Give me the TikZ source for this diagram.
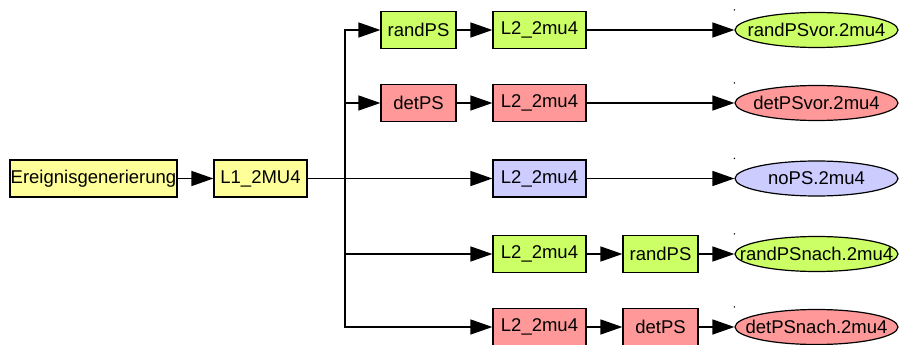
\documentclass[tikz,border=0pt]{standalone}
\usepackage{fontspec}
\setmainfont{Liberation Sans}
\usetikzlibrary{shapes,arrows.meta,positioning}

\definecolor{genyellow}{RGB}{255,255,153}
\definecolor{randgreen}{RGB}{204,255,102}
\definecolor{detred}{RGB}{255,153,153}
\definecolor{nopsblue}{RGB}{204,204,255}

\begin{document}
\begin{tikzpicture}[x=1pt, y=-1pt,
    font=\fontsize{18.5}{21}\selectfont,
    box/.style={rectangle, draw, line width=1.2pt, minimum height=37pt, inner sep=0pt},
    wide/.style={box, minimum width=93pt},
    ps/.style={box, minimum width=75pt},
    oval/.style={ellipse, draw, line width=1.2pt, minimum width=163pt,
                 minimum height=35pt, inner sep=0pt},
    arrow/.style={-{Triangle[length=22pt, width=15pt]}, line width=1.5pt}
]
\useasboundingbox (0,0) rectangle (900,345);

% Generation
\node[box, fill=genyellow, minimum width=167pt] (gen) at (93.5,178.5) {Ereignisgenerierung};
\node[wide, fill=genyellow] (l1) at (260.5,178.5) {L1\_2MU4};
\coordinate (fork) at (345,178.5);

% PS before L2
\node[ps, fill=randgreen] (rpsvor) at (418.5,30) {randPS};
\node[wide, fill=randgreen] (l2a) at (539.5,30) {L2\_2mu4};
\node[oval, fill=randgreen, label=center:randPSvor.2mu4] (ov1) at (816.5,30) {};

\node[ps, fill=detred] (dpsvor) at (418.5,103) {detPS};
\node[wide, fill=detred] (l2b) at (539.5,103) {L2\_2mu4};
\node[oval, fill=detred, label=center:detPSvor.2mu4] (ov2) at (816.5,103) {};

% no PS
\node[wide, fill=nopsblue] (l2c) at (539.5,178.5) {L2\_2mu4};
\node[oval, fill=nopsblue, label=center:noPS.2mu4] (ov3) at (816.5,178.5) {};

% PS after L2
\node[wide, fill=randgreen] (l2d) at (539.5,254) {L2\_2mu4};
\node[ps, fill=randgreen] (rpsnach) at (660.5,254) {randPS};
\node[oval, fill=randgreen, label=center:randPSnach.2mu4] (ov4) at (816.5,254) {};

\node[wide, fill=detred] (l2e) at (539.5,327) {L2\_2mu4};
\node[ps, fill=detred] (dpsnach) at (660.5,327) {detPS};
\node[oval, fill=detred, label=center:detPSnach.2mu4] (ov5) at (816.5,327) {};

% small marks above the ellipses
\foreach \e in {ov1,ov2,ov3,ov4,ov5}
    \fill (\e.west |- \e.north) ++(0,-2) circle (0.8pt);

% Connections
\draw[arrow] (gen) -- (l1);
\draw[arrow] (l1) -- (l2c);
\draw[arrow] (fork) |- (rpsvor);
\draw[arrow] (fork) |- (dpsvor);
\draw[arrow] (fork) |- (l2d);
\draw[arrow] (fork) |- (l2e);

\draw[arrow] (rpsvor) -- (l2a);
\draw[arrow] (l2a) -- (ov1);
\draw[arrow] (dpsvor) -- (l2b);
\draw[arrow] (l2b) -- (ov2);
\draw[arrow] (l2c) -- (ov3);
\draw[arrow] (l2d) -- (rpsnach);
\draw[arrow] (rpsnach) -- (ov4);
\draw[arrow] (l2e) -- (dpsnach);
\draw[arrow] (dpsnach) -- (ov5);

\end{tikzpicture}
\end{document}
